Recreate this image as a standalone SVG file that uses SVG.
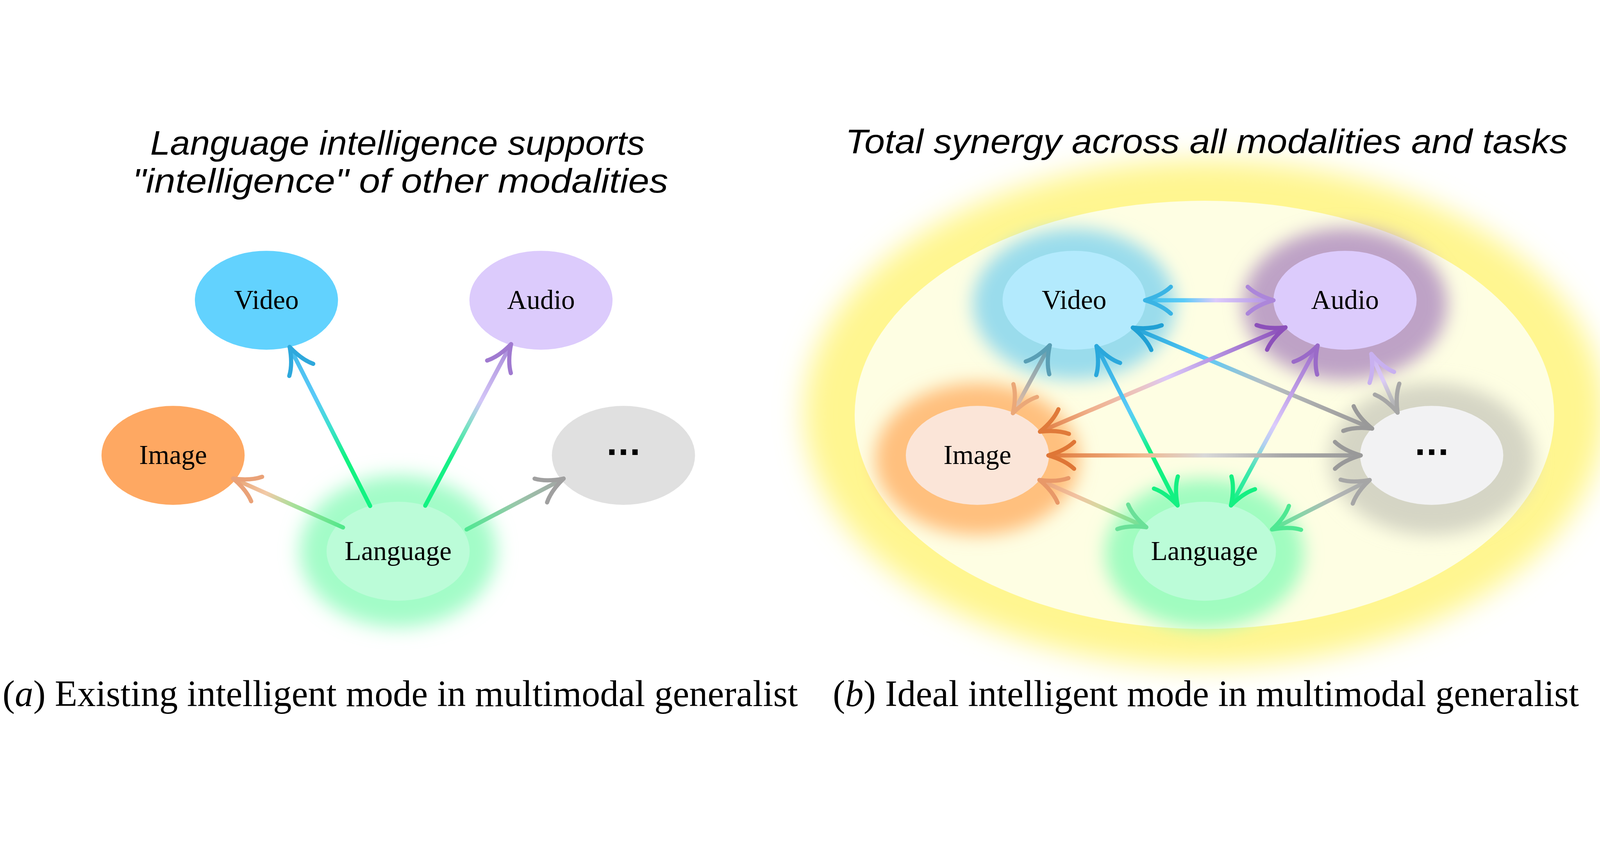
<svg xmlns="http://www.w3.org/2000/svg" width="5723" height="2156" viewBox="0 0 5723 2156">
<style>
svg{width:100%;height:100%}
.title{font-family:"Liberation Sans",Arial,sans-serif;font-style:italic;font-size:121px;fill:#000;text-anchor:middle}
.cap{font-family:"Liberation Serif","Times New Roman",serif;font-size:132px;fill:#000}
.lbl{font-family:"Liberation Serif","Times New Roman",serif;font-size:97px;fill:#000;text-anchor:middle}
.dots{font-family:"Liberation Sans",Arial,sans-serif;font-weight:bold;font-size:135px;letter-spacing:4px;fill:#000;text-anchor:middle}
.edge{fill:none;stroke-width:15;stroke-linecap:round}
.hd{fill:none;stroke-width:15;stroke-linecap:round;stroke-linejoin:round}
.glow{filter:url(#fGlow)}
</style>
<defs>
<filter id="fGlow" x="-50%" y="-50%" width="200%" height="200%"><feGaussianBlur stdDeviation="32"/></filter>
<filter id="fGlowL" x="-50%" y="-50%" width="200%" height="200%"><feGaussianBlur stdDeviation="34"/></filter>
<filter id="fBig" x="-30%" y="-30%" width="160%" height="160%"><feGaussianBlur stdDeviation="50"/></filter>
<path id="ah" d="M-92,-48 C-70,-27 -34,-10 0,0 C-34,10 -70,27 -92,48"/>
<marker id="hLV" markerUnits="userSpaceOnUse" orient="auto-start-reverse" markerWidth="240" markerHeight="240" viewBox="-120 -120 240 240" refX="0" refY="0" overflow="visible"><use href="#ah" class="hd" stroke="#2ea8dc"/></marker>
<marker id="hLA" markerUnits="userSpaceOnUse" orient="auto-start-reverse" markerWidth="240" markerHeight="240" viewBox="-120 -120 240 240" refX="0" refY="0" overflow="visible"><use href="#ah" class="hd" stroke="#a07ad0"/></marker>
<marker id="hLI" markerUnits="userSpaceOnUse" orient="auto-start-reverse" markerWidth="240" markerHeight="240" viewBox="-120 -120 240 240" refX="0" refY="0" overflow="visible"><use href="#ah" class="hd" stroke="#eaa278"/></marker>
<marker id="hLD" markerUnits="userSpaceOnUse" orient="auto-start-reverse" markerWidth="240" markerHeight="240" viewBox="-120 -120 240 240" refX="0" refY="0" overflow="visible"><use href="#ah" class="hd" stroke="#a0a0a0"/></marker>
<marker id="m1s" markerUnits="userSpaceOnUse" orient="auto-start-reverse" markerWidth="240" markerHeight="240" viewBox="-120 -120 240 240" refX="0" refY="0" overflow="visible"><use href="#ah" class="hd" stroke="#3ab4e4"/></marker>
<marker id="m1e" markerUnits="userSpaceOnUse" orient="auto-start-reverse" markerWidth="240" markerHeight="240" viewBox="-120 -120 240 240" refX="0" refY="0" overflow="visible"><use href="#ah" class="hd" stroke="#ac86da"/></marker>
<marker id="m2s" markerUnits="userSpaceOnUse" orient="auto-start-reverse" markerWidth="240" markerHeight="240" viewBox="-120 -120 240 240" refX="0" refY="0" overflow="visible"><use href="#ah" class="hd" stroke="#20a0d4"/></marker>
<marker id="m2e" markerUnits="userSpaceOnUse" orient="auto-start-reverse" markerWidth="240" markerHeight="240" viewBox="-120 -120 240 240" refX="0" refY="0" overflow="visible"><use href="#ah" class="hd" stroke="#999999"/></marker>
<marker id="m3s" markerUnits="userSpaceOnUse" orient="auto-start-reverse" markerWidth="240" markerHeight="240" viewBox="-120 -120 240 240" refX="0" refY="0" overflow="visible"><use href="#ah" class="hd" stroke="#8c50ba"/></marker>
<marker id="m3e" markerUnits="userSpaceOnUse" orient="auto-start-reverse" markerWidth="240" markerHeight="240" viewBox="-120 -120 240 240" refX="0" refY="0" overflow="visible"><use href="#ah" class="hd" stroke="#e07a3a"/></marker>
<marker id="m4s" markerUnits="userSpaceOnUse" orient="auto-start-reverse" markerWidth="240" markerHeight="240" viewBox="-120 -120 240 240" refX="0" refY="0" overflow="visible"><use href="#ah" class="hd" stroke="#2aa8dc"/></marker>
<marker id="mLg" markerUnits="userSpaceOnUse" orient="auto-start-reverse" markerWidth="240" markerHeight="240" viewBox="-120 -120 240 240" refX="0" refY="0" overflow="visible"><use href="#ah" class="hd" stroke="#14f082"/></marker>
<marker id="m5s" markerUnits="userSpaceOnUse" orient="auto-start-reverse" markerWidth="240" markerHeight="240" viewBox="-120 -120 240 240" refX="0" refY="0" overflow="visible"><use href="#ah" class="hd" stroke="#9a6ac8"/></marker>
<marker id="m6s" markerUnits="userSpaceOnUse" orient="auto-start-reverse" markerWidth="240" markerHeight="240" viewBox="-120 -120 240 240" refX="0" refY="0" overflow="visible"><use href="#ah" class="hd" stroke="#5a9fb5"/></marker>
<marker id="m6e" markerUnits="userSpaceOnUse" orient="auto-start-reverse" markerWidth="240" markerHeight="240" viewBox="-120 -120 240 240" refX="0" refY="0" overflow="visible"><use href="#ah" class="hd" stroke="#eba878"/></marker>
<marker id="m7s" markerUnits="userSpaceOnUse" orient="auto-start-reverse" markerWidth="240" markerHeight="240" viewBox="-120 -120 240 240" refX="0" refY="0" overflow="visible"><use href="#ah" class="hd" stroke="#c8b0f0"/></marker>
<marker id="mDg" markerUnits="userSpaceOnUse" orient="auto-start-reverse" markerWidth="240" markerHeight="240" viewBox="-120 -120 240 240" refX="0" refY="0" overflow="visible"><use href="#ah" class="hd" stroke="#a6a6a6"/></marker>
<marker id="m8s" markerUnits="userSpaceOnUse" orient="auto-start-reverse" markerWidth="240" markerHeight="240" viewBox="-120 -120 240 240" refX="0" refY="0" overflow="visible"><use href="#ah" class="hd" stroke="#df7636"/></marker>
<marker id="m9s" markerUnits="userSpaceOnUse" orient="auto-start-reverse" markerWidth="240" markerHeight="240" viewBox="-120 -120 240 240" refX="0" refY="0" overflow="visible"><use href="#ah" class="hd" stroke="#e89868"/></marker>
<marker id="m9e" markerUnits="userSpaceOnUse" orient="auto-start-reverse" markerWidth="240" markerHeight="240" viewBox="-120 -120 240 240" refX="0" refY="0" overflow="visible"><use href="#ah" class="hd" stroke="#6ae098"/></marker>
<marker id="m10e" markerUnits="userSpaceOnUse" orient="auto-start-reverse" markerWidth="240" markerHeight="240" viewBox="-120 -120 240 240" refX="0" refY="0" overflow="visible"><use href="#ah" class="hd" stroke="#4ee892"/></marker>

<linearGradient id="gL1" gradientUnits="userSpaceOnUse" x1="1324" y1="1382" x2="1036" y2="813"><stop offset="0" stop-color="#12f382"/><stop offset="0.3" stop-color="#12f382"/><stop offset="0.5" stop-color="#3ee0d0"/><stop offset="0.68" stop-color="#5acaf8"/><stop offset="1" stop-color="#45bbeb"/></linearGradient>
<linearGradient id="gL2" gradientUnits="userSpaceOnUse" x1="1521" y1="1381" x2="1828" y2="803"><stop offset="0" stop-color="#12f382"/><stop offset="0.3" stop-color="#18f088"/><stop offset="0.5" stop-color="#80e0c8"/><stop offset="0.65" stop-color="#d4c6f8"/><stop offset="1" stop-color="#a88ad8"/></linearGradient>
<linearGradient id="gL3" gradientUnits="userSpaceOnUse" x1="1227" y1="1459" x2="834" y2="1284"><stop offset="0" stop-color="#4fe88a"/><stop offset="0.45" stop-color="#a8e09a"/><stop offset="0.7" stop-color="#f2caa8"/><stop offset="1" stop-color="#e8a070"/></linearGradient>
<linearGradient id="gL4" gradientUnits="userSpaceOnUse" x1="1669" y1="1466" x2="2016" y2="1284"><stop offset="0" stop-color="#4fe892"/><stop offset="0.5" stop-color="#98c8aa"/><stop offset="1" stop-color="#a4a4a4"/></linearGradient>

<linearGradient id="gR1" gradientUnits="userSpaceOnUse" x1="4096" y1="646" x2="4555" y2="646"><stop offset="0" stop-color="#40bde8"/><stop offset="0.3" stop-color="#5acbf8"/><stop offset="0.55" stop-color="#dccbfc"/><stop offset="1" stop-color="#b090e0"/></linearGradient>
<linearGradient id="gR2" gradientUnits="userSpaceOnUse" x1="4052" y1="744" x2="4908" y2="1105"><stop offset="0" stop-color="#22a2d6"/><stop offset="0.3" stop-color="#5acbf8"/><stop offset="0.55" stop-color="#b8c0c4"/><stop offset="0.8" stop-color="#a8a8a8"/><stop offset="1" stop-color="#989898"/></linearGradient>
<linearGradient id="gR3" gradientUnits="userSpaceOnUse" x1="4598" y1="743" x2="3720" y2="1116"><stop offset="0" stop-color="#8a4cb8"/><stop offset="0.3" stop-color="#b898e4"/><stop offset="0.48" stop-color="#dcc8f8"/><stop offset="0.6" stop-color="#ecc4c0"/><stop offset="0.8" stop-color="#f0b08a"/><stop offset="1" stop-color="#e07a3e"/></linearGradient>
<linearGradient id="gR4" gradientUnits="userSpaceOnUse" x1="3922" y1="810" x2="4212" y2="1380"><stop offset="0" stop-color="#2aa8dc"/><stop offset="0.4" stop-color="#5acbf8"/><stop offset="0.52" stop-color="#40e0d8"/><stop offset="0.65" stop-color="#12f282"/><stop offset="1" stop-color="#12f282"/></linearGradient>
<linearGradient id="gR5" gradientUnits="userSpaceOnUse" x1="4713" y1="808" x2="4403" y2="1380"><stop offset="0" stop-color="#9a68c8"/><stop offset="0.3" stop-color="#c0a0e8"/><stop offset="0.5" stop-color="#dccbfc"/><stop offset="0.62" stop-color="#b0d0f0"/><stop offset="0.78" stop-color="#40e8b0"/><stop offset="1" stop-color="#12f282"/></linearGradient>
<linearGradient id="gR6" gradientUnits="userSpaceOnUse" x1="3755" y1="807" x2="3623" y2="1050"><stop offset="0" stop-color="#5a9eb2"/><stop offset="0.5" stop-color="#a8aeae"/><stop offset="1" stop-color="#f2c0a0"/></linearGradient>
<linearGradient id="gR7" gradientUnits="userSpaceOnUse" x1="4905" y1="838" x2="4999" y2="1048"><stop offset="0" stop-color="#c8b0f0"/><stop offset="0.45" stop-color="#dccbf8"/><stop offset="0.7" stop-color="#c0c0c4"/><stop offset="1" stop-color="#a8a8a8"/></linearGradient>
<linearGradient id="gR8" gradientUnits="userSpaceOnUse" x1="3750" y1="1201" x2="4867" y2="1201"><stop offset="0" stop-color="#e07838"/><stop offset="0.3" stop-color="#f0b890"/><stop offset="0.5" stop-color="#d8d8d8"/><stop offset="0.75" stop-color="#a8a8a8"/><stop offset="1" stop-color="#9a9a9a"/></linearGradient>
<linearGradient id="gR9" gradientUnits="userSpaceOnUse" x1="3718" y1="1289" x2="4100" y2="1458"><stop offset="0" stop-color="#eaa070"/><stop offset="0.35" stop-color="#f2c2a2"/><stop offset="0.55" stop-color="#d8d8a0"/><stop offset="0.8" stop-color="#90e094"/><stop offset="1" stop-color="#68e098"/></linearGradient>
<linearGradient id="gR10" gradientUnits="userSpaceOnUse" x1="4899" y1="1289" x2="4550" y2="1466"><stop offset="0" stop-color="#a8a8a8"/><stop offset="0.4" stop-color="#b4b8b8"/><stop offset="0.7" stop-color="#88d4a8"/><stop offset="1" stop-color="#50e890"/></linearGradient>
</defs>

<rect x="0" y="0" width="5723" height="2156" fill="#ffffff"/>

<g id="synergy-field">
<ellipse cx="4308" cy="1050" rx="1432" ry="906" fill="#fff690" filter="url(#fBig)"/>
<ellipse cx="4308" cy="1056" rx="1251" ry="766" fill="#fefee3"/>
</g>

<g id="titles">
<text class="title" x="1422" y="125" textLength="1769" lengthAdjust="spacingAndGlyphs">Language intelligence supports</text>
<text class="title" x="1432" y="260" textLength="1916" lengthAdjust="spacingAndGlyphs">"intelligence" of other modalities</text>
<text class="title" x="4316" y="119" textLength="2584" lengthAdjust="spacingAndGlyphs">Total synergy across all modalities and tasks</text>
</g>

<g id="a-video">
<ellipse cx="953" cy="646" rx="256" ry="177" fill="#62d2fe"/>
<text class="lbl" x="953" y="677">Video</text>
</g>
<g id="a-audio">
<ellipse cx="1935" cy="646" rx="256" ry="177" fill="#dccbfc"/>
<text class="lbl" x="1935" y="677">Audio</text>
</g>
<g id="a-image">
<ellipse cx="619" cy="1201" rx="256" ry="177" fill="#fea862"/>
<text class="lbl" x="619" y="1232">Image</text>
</g>
<g id="a-more">
<ellipse cx="2230" cy="1201" rx="256" ry="177" fill="#e0e0e0"/>
<text class="dots" x="2232" y="1200">...</text>
</g>
<g id="a-language">
<ellipse cx="1424" cy="1544" rx="352" ry="272" fill="#a3fcc8" filter="url(#fGlowL)"/>
<ellipse cx="1424" cy="1544" rx="256" ry="177" fill="#bbfcd8"/>
<text class="lbl" x="1424" y="1575">Language</text>
</g>

<g id="b-video">
<ellipse cx="3842" cy="660" rx="362" ry="270" fill="#9adcec" class="glow"/>
<ellipse cx="3842" cy="646" rx="256" ry="177" fill="#b3eafd"/>
<text class="lbl" x="3842" y="677">Video</text>
</g>
<g id="b-audio">
<ellipse cx="4811" cy="660" rx="366" ry="272" fill="#bea2c6" class="glow"/>
<ellipse cx="4811" cy="646" rx="256" ry="177" fill="#dccbfc"/>
<text class="lbl" x="4811" y="677">Audio</text>
</g>
<g id="b-image">
<ellipse cx="3496" cy="1214" rx="366" ry="272" fill="#ffc07e" class="glow"/>
<ellipse cx="3496" cy="1201" rx="256" ry="177" fill="#fbe5d8"/>
<text class="lbl" x="3496" y="1232">Image</text>
</g>
<g id="b-more">
<ellipse cx="5121" cy="1214" rx="366" ry="272" fill="#d5d5c5" class="glow"/>
<ellipse cx="5121" cy="1201" rx="256" ry="177" fill="#f2f2f3"/>
<text class="dots" x="5123" y="1200">...</text>
</g>
<g id="b-language">
<ellipse cx="4308" cy="1552" rx="356" ry="268" fill="#a0fcc0" class="glow"/>
<ellipse cx="4308" cy="1544" rx="256" ry="177" fill="#bbfcd8"/>
<text class="lbl" x="4308" y="1575">Language</text>
</g>

<g id="connectors">
<line class="edge" x1="1324" y1="1382" x2="1036" y2="813" stroke="url(#gL1)" marker-end="url(#hLV)"/>
<line class="edge" x1="1521" y1="1381" x2="1828" y2="803" stroke="url(#gL2)" marker-end="url(#hLA)"/>
<line class="edge" x1="1227" y1="1459" x2="834" y2="1284" stroke="url(#gL3)" marker-end="url(#hLI)"/>
<line class="edge" x1="1669" y1="1466" x2="2016" y2="1284" stroke="url(#gL4)" marker-end="url(#hLD)"/>
<line class="edge" x1="4096" y1="646" x2="4555" y2="646" stroke="url(#gR1)" marker-start="url(#m1s)" marker-end="url(#m1e)"/>
<line class="edge" x1="4052" y1="744" x2="4908" y2="1105" stroke="url(#gR2)" marker-start="url(#m2s)" marker-end="url(#m2e)"/>
<line class="edge" x1="4598" y1="743" x2="3720" y2="1116" stroke="url(#gR3)" marker-start="url(#m3s)" marker-end="url(#m3e)"/>
<line class="edge" x1="3922" y1="810" x2="4212" y2="1380" stroke="url(#gR4)" marker-start="url(#m4s)" marker-end="url(#mLg)"/>
<line class="edge" x1="4713" y1="808" x2="4403" y2="1380" stroke="url(#gR5)" marker-start="url(#m5s)" marker-end="url(#mLg)"/>
<line class="edge" x1="3755" y1="807" x2="3623" y2="1050" stroke="url(#gR6)" marker-start="url(#m6s)" marker-end="url(#m6e)"/>
<line class="edge" x1="4905" y1="838" x2="4999" y2="1048" stroke="url(#gR7)" marker-start="url(#m7s)" marker-end="url(#mDg)"/>
<line class="edge" x1="3750" y1="1201" x2="4867" y2="1201" stroke="url(#gR8)" marker-start="url(#m8s)" marker-end="url(#m2e)"/>
<line class="edge" x1="3718" y1="1289" x2="4100" y2="1458" stroke="url(#gR9)" marker-start="url(#m9s)" marker-end="url(#m9e)"/>
<line class="edge" x1="4899" y1="1289" x2="4550" y2="1466" stroke="url(#gR10)" marker-start="url(#mDg)" marker-end="url(#m10e)"/>
</g>

<g id="captions">
<text class="cap" x="9" y="2098">(<tspan font-style="italic">a</tspan>) Existing intelligent mode in multimodal generalist</text>
<text class="cap" x="2979" y="2098">(<tspan font-style="italic">b</tspan>) Ideal intelligent mode in multimodal generalist</text>
</g>
</svg>
